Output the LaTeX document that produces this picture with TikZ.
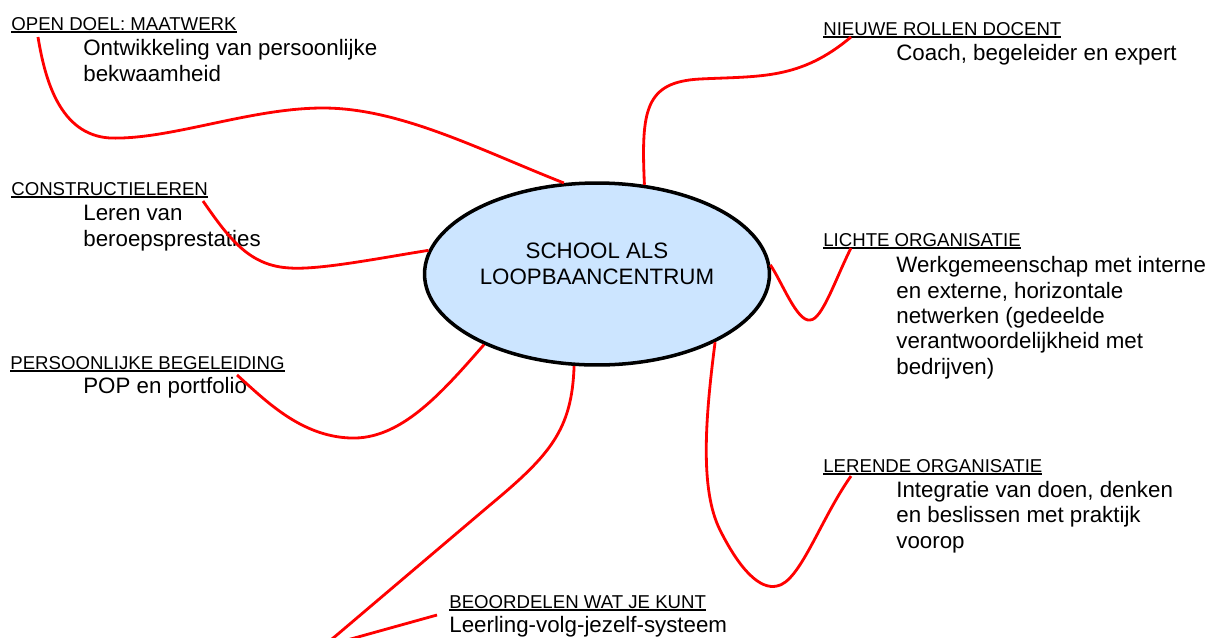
\documentclass[tikz,border=0pt]{standalone}
\usepackage{fontspec}
\setmainfont{Liberation Sans}
\usetikzlibrary{shapes.geometric}
\definecolor{hubblue}{RGB}{204,229,255}
\newcommand{\ulhead}[1]{\setbox0\hbox{#1}\rlap{\rule[-1.9pt]{\wd0}{1.1pt}}\box0}

\begin{document}
\begin{tikzpicture}[x=0.02cm,y=-0.02cm,
                    hub/.style={ellipse,draw,line width=2pt,fill=hubblue,minimum width=6.9cm,minimum height=3.64cm,inner sep=0pt},
                    head node/.style={anchor=base west,inner sep=0pt,font=\fontsize{10.6}{12.7}\selectfont},
                    text node/.style={anchor=base west,inner sep=0pt,align=left,font=\fontsize{12.7}{14.4}\selectfont},
                    link/.style={red,line width=1.6pt}]
  \useasboundingbox (0,0) rectangle (1211,637);
  \clip (0,0) rectangle (1211,637);
  % centre
  \node[hub] (c) at (597,274) {};
  \node[align=center,inner sep=0pt,font=\fontsize{12.7}{14.6}\selectfont] (ct) at (597,264) {SCHOOL ALS\\LOOPBAANCENTRUM};
  % left side (multi-line texts sit on their last line)
  \node[head node] (h1) at (11,30) {\ulhead{OPEN DOEL: MAATWERK}};
  \node[text node] (t1) at (83,81) {Ontwikkeling van persoonlijke\\bekwaamheid};
  \node[head node] (h2) at (11,195) {\ulhead{CONSTRUCTIELEREN}};
  \node[text node] (t2) at (83,246) {Leren van\\beroepsprestaties};
  \node[head node] (h3) at (10,369) {\ulhead{PERSOONLIJKE BEGELEIDING}};
  \node[text node] (t3) at (83,393) {POP en portfolio};
  % right side
  \node[head node] (h4) at (823,35) {\ulhead{NIEUWE ROLLEN DOCENT}};
  \node[text node] (t4) at (896,60) {Coach, begeleider en expert};
  \node[head node] (h5) at (823,246) {\ulhead{LICHTE ORGANISATIE}};
  \node[text node] (t5) at (896,374) {Werkgemeenschap met interne\\en externe, horizontale\\netwerken (gedeelde\\verantwoordelijkheid met\\bedrijven)};
  \node[head node] (h6) at (823,472) {\ulhead{LERENDE ORGANISATIE}};
  \node[text node] (t6) at (896,548) {Integratie van doen, denken\\en beslissen met praktijk\\voorop};
  % bottom
  \node[head node] (h7) at (449,608) {\ulhead{BEOORDELEN WAT JE KUNT}};
  \node[text node] (t7) at (449,632) {Leerling-volg-jezelf-systeem};
  % loose ends of the branches
  \coordinate (e1) at (38,37);
  \coordinate (e2) at (203,201);
  \coordinate (e3) at (237,375);
  \coordinate (e4) at (437,615);
  \coordinate (e5) at (851,37);
  \coordinate (e6) at (851,248);
  \coordinate (e7) at (851,476);
  % branches
  \draw[link] (c.110) .. controls (480,150) and (400,108) .. (323,108)
              .. controls (250,108) and (170,140) .. (110,138)
              .. controls (60,135) and (45,80) .. (e1);
  \draw[link] (c.172) .. controls (380,258) and (320,270) .. (290,268)
              .. controls (250,266) and (230,240) .. (e2);
  \draw[link] (c.212) .. controls (440,395) and (400,440) .. (350,438)
              .. controls (300,436) and (265,400) .. (e3);
  \draw[link] (c.256) .. controls (572,430) and (550,455) .. (490,505) -- (338,634)
              .. controls (318,651) and (312,650) .. (340,642) -- (e4);
  \draw[link] (c.62) .. controls (641,110) and (645,82) .. (700,79)
              .. controls (760,76) and (800,80) .. (e5);
  \draw[link] (c.3) .. controls (782,282) and (797,322) .. (810,320)
              .. controls (822,320) and (835,280) .. (e6);
  \draw[link] (c.330) .. controls (705,420) and (700,490) .. (720,530)
              .. controls (740,570) and (760,590) .. (777,586)
              .. controls (800,582) and (820,520) .. (e7);
\end{tikzpicture}
\end{document}
